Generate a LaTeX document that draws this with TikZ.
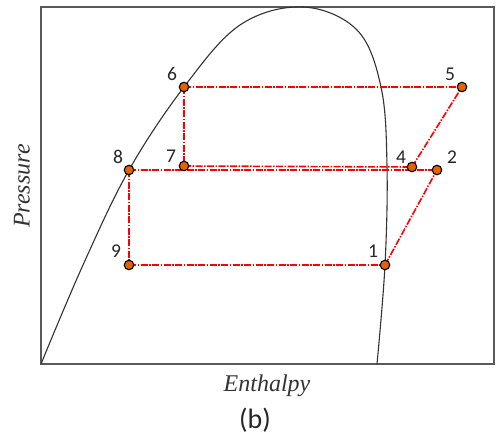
\documentclass[tikz,border=0pt]{standalone}
\usepackage{fontspec}
\setmainfont{Liberation Serif}
\newfontfamily\calib{Carlito}
\begin{document}
\begin{tikzpicture}[x=1pt,y=-1pt,
  frame/.style={draw=black!65,line width=1.4pt},
  satcurve/.style={draw=black!80,line width=1.1pt},
  cyc/.style={draw=red,line width=1.6pt,dash pattern=on 7pt off 1.5pt on 1.5pt off 1.5pt},
  pt/.style={circle,fill=orange!85!red!90!black,draw=black,line width=1.1pt,minimum size=9.5pt,inner sep=0pt},
  lab/.style={font=\calib\fontsize{19.5}{19.5}\selectfont,text=black!85},
  axlab/.style={font=\itshape\fontsize{24}{24}\selectfont,text=black!80}]
\useasboundingbox (0,0) rectangle (498,436);
\draw[frame] (41,7) rectangle (494,364);
\draw[satcurve] plot[smooth,tension=0.6] coordinates {(41,364) (83,265) (129,170) (184,87) (240,25) (303,7) (357,30) (381,87) (387,166) (385,265) (377,364)};
% cycle point anchors
\coordinate (p1) at (385,265);
\coordinate (p2) at (437,170);
\coordinate (p4) at (412,167);
\coordinate (p5) at (462,87);
\coordinate (p6) at (184,87);
\coordinate (p7) at (184,166);
\coordinate (p8) at (129,170);
\coordinate (p9) at (129,265);
\draw[cyc] (p6) -- (p5);
\draw[cyc] (p6) -- (p7);
\draw[cyc] (p7) -- (p4);
\draw[cyc] (p8) -- (p2);
\draw[cyc] (p8) -- (p9);
\draw[cyc] (p9) -- (p1);
\draw[cyc] (p1) -- (p2);
\draw[cyc] (p4) -- (p5);
% markers on top
\foreach \n in {1,2,4,5,6,7,8,9}
  \node[pt] (m\n) at (p\n) {};
\node[lab] (l6) at (172,74) {6};
\node[lab] (l5) at (450,74) {5};
\node[lab] (l8) at (118,157) {8};
\node[lab] (l7) at (171,156) {7};
\node[lab] (l4) at (401,157) {4};
\node[lab] (l2) at (452,157) {2};
\node[lab] (l9) at (116,251) {9};
\node[lab] (l1) at (373,251) {1};
\node[axlab,rotate=90] (yl) at (22,186) {Pressure};
\node[axlab] (xl) at (267,386) {Enthalpy};
\node[font=\calib\fontsize{28}{28}\selectfont,text=black!85] (cap) at (255,420) {(b)};
\end{tikzpicture}
\end{document}
